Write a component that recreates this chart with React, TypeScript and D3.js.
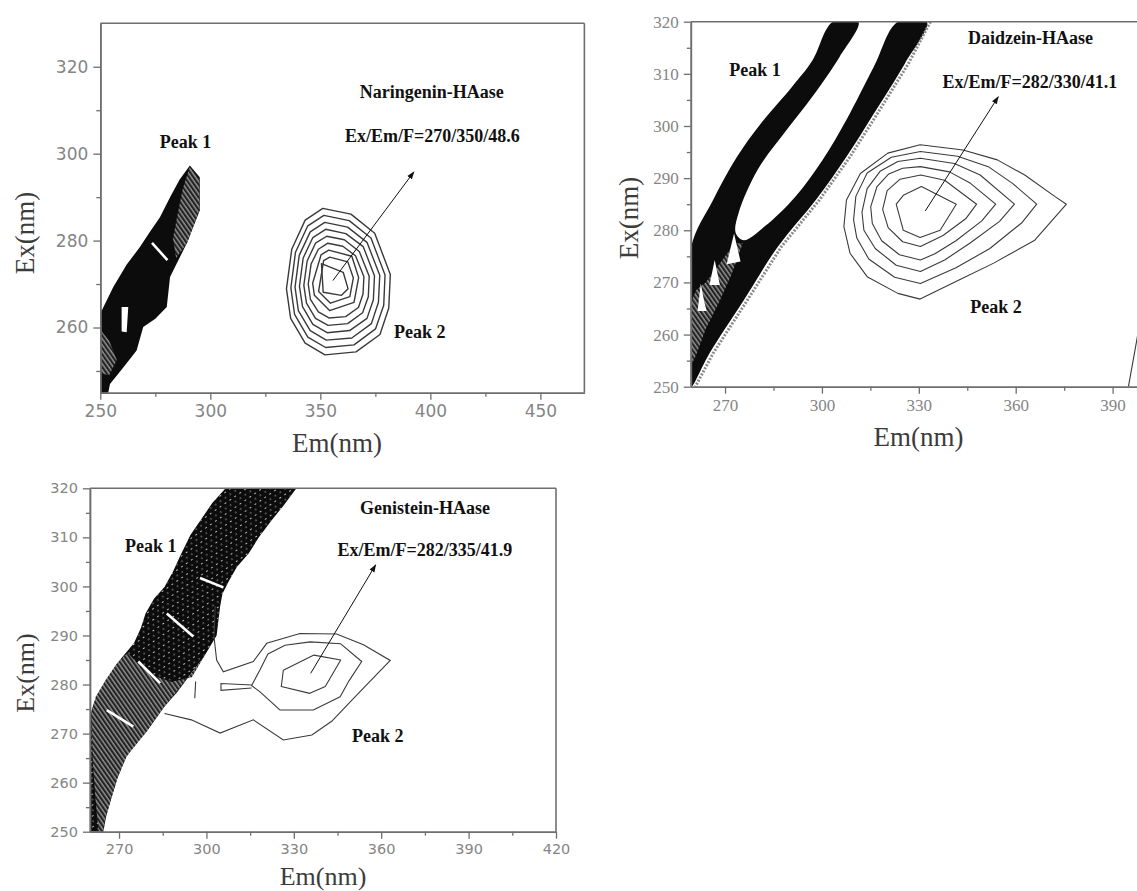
import React, { useEffect, useRef } from 'react';
import * as d3 from 'd3';

type Pt = [number, number];

const W = 1137;
const H = 891;

// ---------- Naringenin-HAase (top left) ----------
const narXTicks = [250, 300, 350, 400, 450];
const narXMinor = [275, 325, 375, 425];
const narYTicks = [260, 280, 300, 320];
const narYMinor = [250, 270, 290, 310];

const narPeak1Band: Pt[] = [
  [250, 243], [250, 263.2], [255.9, 269.3], [262, 274.5], [268, 278.5], [272.5, 282], [277.1, 285.4],
  [281.7, 290], [286, 294], [290.7, 297.3], [295.2, 294.6], [295.2, 286.9], [289.2, 279.3],
  [281.7, 271.6], [280.2, 264.7], [275, 262], [269.5, 260.1], [266.5, 254.7], [260, 250.5],
  [254.4, 247], [252.9, 243.2],
];
const narPeak1Hatch: Pt[][] = [
  [[290.7, 297], [295, 294.3], [295, 287], [289.5, 279.5], [284.5, 276], [283, 280.5], [285.5, 287], [287.5, 292]],
  [[250, 259.5], [254, 257], [257.5, 252.5], [254, 249], [250, 249.5]],
];
const narPeak1Holes: Pt[][] = [
  [[259.7, 264.7], [262.7, 264.7], [262, 258.9], [259.7, 259.1]],
];
const narPeak1Slashes: Pt[][] = [
  [[273.5, 279.5], [280.5, 275.5]],
];
const narPeak2Rings: Pt[][] = [
  [[351.1, 287.4], [363.9, 286.1], [374.7, 281.7], [381.8, 272.2], [381.1, 264.5], [377.1, 258.4], [366.2, 254.4], [352.1, 253.7], [343.1, 256.4], [336.5, 262.1], [334.6, 268.9], [337, 278], [343.1, 284.7]],
  [[351.6, 285.8], [363.1, 284.6], [373, 280.6], [379.4, 272.1], [378.8, 265.1], [375.1, 259.7], [365.3, 256], [352.4, 255.4], [344.3, 257.8], [338.3, 263], [336.6, 269.1], [338.7, 277.3], [344.3, 283.4]],
  [[352, 284.2], [362.4, 283.1], [371.2, 279.6], [377, 272], [376.4, 265.8], [373.2, 260.9], [364.3, 257.6], [352.7, 257.1], [345.4, 259.3], [340, 263.9], [338.5, 269.3], [340.4, 276.6], [345.4, 282]],
  [[352.4, 282.6], [361.6, 281.6], [369.5, 278.6], [374.6, 271.9], [374.1, 266.4], [371.2, 262.1], [363.3, 259.3], [353.1, 258.8], [346.6, 260.7], [341.9, 264.8], [340.5, 269.5], [342.2, 276], [346.6, 280.7]],
  [[352.9, 281], [360.9, 280.2], [367.7, 277.5], [372.2, 271.8], [371.8, 267.1], [369.2, 263.4], [362.4, 260.9], [353.5, 260.5], [347.8, 262.1], [343.7, 265.6], [342.5, 269.7], [344, 275.3], [347.8, 279.4]],
  [[353.4, 279.4], [360.2, 278.7], [366, 276.5], [369.8, 271.7], [369.4, 267.7], [367.3, 264.6], [361.5, 262.5], [353.9, 262.2], [349.1, 263.6], [345.5, 266.5], [344.5, 270], [345.8, 274.6], [349.1, 278]],
  [[353.8, 277.8], [364.3, 276.4], [367.4, 271.5], [365.3, 265.8], [354.2, 263.9], [347.3, 267.4], [346.5, 270.2], [350.3, 276.7]],
  [[354.3, 276.2], [362.5, 275.1], [365, 271.4], [363.4, 267.1], [354.6, 265.6], [349.2, 268.3], [351.5, 275.4]],
  [[350.5, 274.7], [360.4, 272.7], [362.6, 268.9], [359.6, 267.4], [351.3, 268.1]],
];
const narArrow: Pt[] = [[355.7, 270.8], [392.5, 295.8]];

// ---------- Daidzein-HAase (top right) ----------
const daiXTicks = [270, 300, 330, 360, 390];
const daiXMinor = [285, 315, 345, 375];
const daiYTicks = [250, 260, 270, 280, 290, 300, 310, 320];
const daiYMinor = [255, 265, 275, 285, 295, 305, 315];

const daiPeak1Band: Pt[] = [
  [259.4, 276.5], [266.3, 285.8], [273.7, 294.1], [281.1, 300.5], [290.7, 307.5], [297, 312.5], [303.4, 320],
  [311.3, 320], [305.5, 313.3], [297, 305.6], [289.4, 299.5], [280.1, 291.6], [274.2, 283.3], [273.3, 279.5],
  [275.8, 278.1], [282.2, 280.7], [291.7, 286.4], [300.2, 293.5], [307.6, 301.2], [316.1, 311.4], [323.5, 320],
  [332.5, 320], [325.7, 312], [316.1, 302.4], [307.6, 294.1], [298.1, 285.8], [286.4, 276.9], [275.8, 266.6],
  [265.2, 256.4], [259.7, 250], [259.4, 250],
];
const daiPeak1Hatch: Pt[][] = [
  [[259.4, 266], [261, 268.5], [264, 270], [267, 272.5], [270, 275], [273, 277.5], [275.5, 277.5], [272, 271.5], [268, 266], [264, 261], [261, 256], [259.4, 254]],
];
const daiPeak1Holes: Pt[][] = [
  [[261.5, 264.5], [262.5, 269.8], [263.5, 266.5], [264.3, 264.5]],
  [[265.2, 269.5], [266.8, 274.3], [268.4, 269.5]],
  [[270.5, 273.5], [272.8, 279.4], [274.8, 274]],
];
const daiPeak1Fringe: Pt[][] = [
  [[333.6, 320], [326.8, 312], [317.2, 302.4], [308.7, 294.1], [299.2, 285.8], [287.5, 276.9], [276.9, 266.6], [266.3, 256.4], [260.8, 250]],
];
const daiPeak2Rings: Pt[][] = [
  [[330.4, 296.4], [343.7, 295.4], [354.3, 293.5], [362.8, 290.6], [372.3, 286.4], [375.7, 285], [372.3, 282.6], [365.9, 278.1], [353.2, 273.7], [342.6, 270.5], [330.4, 266.8], [323.5, 267.9], [314, 271.1], [308.7, 275.6], [306.8, 280.7], [307.6, 285.8], [311.9, 290.9], [320.4, 294.8]],
  [[330.5, 295.1], [342, 294.2], [351.5, 292.2], [359, 289], [366.5, 285], [362, 281.5], [352, 276.5], [341.5, 272.8], [330.5, 269.8], [322.5, 271], [314.5, 274.5], [310.8, 278.5], [309.8, 282], [310.5, 286.5], [314, 291], [321.5, 294]],
  [[330.5, 293.8], [341, 292.8], [349, 290.6], [359.6, 285], [355, 281.7], [346, 277.6], [338, 274.3], [330.5, 272.1], [323, 273.3], [316.5, 276.5], [313, 280], [312.4, 283.5], [314, 288], [318, 291.3], [323.5, 293.2]],
  [[330.5, 292.2], [339.5, 291.2], [346, 289], [353.8, 285], [349.5, 281.8], [341.5, 278], [335, 275.5], [330.5, 274.3], [324, 275.3], [318.5, 278], [315.6, 281.3], [315.1, 284.5], [317, 288.3], [320.7, 290.8], [325, 291.9]],
  [[330.6, 290.6], [338, 289.6], [347.9, 285], [344.5, 282.2], [337.5, 279], [330.5, 276.9], [325, 277.8], [320.5, 280.5], [318.8, 284], [320.2, 287.6], [324.2, 289.8]],
  [[330.8, 288.4], [341.6, 285], [336.6, 280], [330.4, 278.6], [325.2, 280], [323, 285], [325.2, 286.7]],
];
const daiOpenLines: Pt[][] = [
  [[394.9, 250], [397.5, 259], [400, 268]],
];
const daiArrow: Pt[] = [[332, 283.7], [354.6, 305.6]];

// ---------- Genistein-HAase (bottom left) ----------
const genXTicks = [270, 300, 330, 360, 390, 420];
const genXMinor = [285, 315, 345, 375, 405];
const genYTicks = [250, 260, 270, 280, 290, 300, 310, 320];
const genYMinor = [255, 265, 275, 285, 295, 305, 315];

const genPeak1Band: Pt[] = [
  [260, 250], [260, 273.5], [261.5, 276.5], [264, 279], [267.2, 282.3], [271, 285.5], [275.1, 288.4],
  [277.5, 291.5], [279.1, 294.5], [282, 297.5], [285.6, 299.9], [288.5, 303], [290.9, 306.1], [294.5, 310.5],
  [298.8, 314.2], [302, 317], [306.6, 320], [330.9, 320], [326.5, 316.5], [322.4, 313.5], [318, 310],
  [314.5, 306.7], [310.5, 304], [307.9, 301.3], [305.5, 298.5], [304.7, 295.9], [303.5, 290], [299, 285.5],
  [294.8, 282.3], [290, 278.5], [285.6, 275.5], [279.1, 270.1], [275.5, 268], [272.5, 265.3], [269.5, 261],
  [267.2, 256.5], [265.5, 253], [264.6, 250],
];
const genPeak1Hatch: Pt[][] = [
  [[260.5, 274], [262, 277.5], [265.5, 281], [269.5, 284.5], [273, 286.5], [276, 284.5], [281, 282], [288, 280.5], [295, 281.5], [299, 285.5], [294.8, 282.3], [285.6, 275.5], [279.1, 270.1], [272.5, 265.3], [269.5, 261], [267.2, 256.5], [265.5, 253], [264.6, 250], [263, 250], [262, 256], [261, 264]],
];
const genPeak1Slashes: Pt[][] = [
  [[297.8, 301.7], [305.8, 299.8]],
  [[286.4, 294.5], [295.5, 289.8]],
  [[276.6, 284.7], [284.1, 280.3]],
  [[265.8, 274.8], [274.9, 271.4]],
];
const genPeak2Rings: Pt[][] = [
  [[315.5, 279.8], [318.4, 283], [321.1, 286.2], [327, 288], [335.6, 288.7], [346.1, 288.3], [353.3, 284.7], [349, 280.8], [345.9, 277.5], [336.7, 274.8], [325.3, 274.8], [318.4, 278.5]],
  [[326.4, 282.9], [336.9, 286], [346.1, 285], [340.8, 279.6], [335.5, 278.2], [325.7, 279.6]],
];
const genOpenLines: Pt[][] = [
  [[303, 296], [302.6, 289.8], [303.5, 285], [305.8, 282.6], [316.1, 284.7], [320.7, 288.4], [332.1, 290.4], [344.7, 290.3], [353.9, 288.1], [363.1, 284.9], [351, 277.5], [343, 272.5], [336.2, 269.7], [326.4, 268.7], [316.1, 272.8], [304.7, 270.1], [294.8, 272.8], [285.6, 274.1]],
  [[315.5, 279.9], [305, 280.2], [305, 278.8], [315.5, 279.3]],
  [[296.3, 280.6], [296, 277.2]],
];
const genArrow: Pt[] = [[335.8, 282.3], [358.1, 304.4]];

interface Panel {
  id: string;
  xDomain: [number, number];
  xRange: [number, number];
  yDomain: [number, number];
  yRange: [number, number];
  xTicks: number[];
  xMinor: number[];
  yTicks: number[];
  yMinor: number[];
  tickFont: string;
  tickSize: number;
  boxRight: boolean;
  titleSize: number;
  exTitle: [number, number];
  emTitle: [number, number];
  name: string;
  formula: string;
  namePos: Pt;
  formulaPos: Pt;
  peak1Pos: Pt;
  peak2Pos: Pt;
  band: Pt[];
  smoothBand: boolean;
  hatch: Pt[][];
  holes: Pt[][];
  slashes: Pt[][];
  fringe: Pt[][];
  specks: boolean;
  rings: Pt[][];
  ringStroke: number;
  openLines: Pt[][];
  arrow: Pt[];
}

const panels: Panel[] = [
  {
    id: 'nar',
    xDomain: [250, 470], xRange: [100.3, 584.4],
    yDomain: [245, 330], yRange: [392.7, 23.3],
    xTicks: narXTicks, xMinor: narXMinor, yTicks: narYTicks, yMinor: narYMinor,
    tickFont: '"DejaVu Sans", "Liberation Sans", sans-serif', tickSize: 17,
    boxRight: true,
    titleSize: 27, exTitle: [25, 233], emTitle: [337, 452],
    name: 'Naringenin-HAase', formula: 'Ex/Em/F=270/350/48.6',
    namePos: [400.6, 312.8], formulaPos: [400.9, 302.7], peak1Pos: [288.7, 301.2], peak2Pos: [395.2, 257.5],
    band: narPeak1Band, smoothBand: false, hatch: narPeak1Hatch, holes: narPeak1Holes, slashes: narPeak1Slashes, fringe: [],
    specks: false,
    rings: narPeak2Rings, ringStroke: 1.4, openLines: [], arrow: narArrow,
  },
  {
    id: 'dai',
    xDomain: [259.4, 400], xRange: [690.8, 1144.9],
    yDomain: [250, 320], yRange: [386.7, 21.7],
    xTicks: daiXTicks, xMinor: daiXMinor, yTicks: daiYTicks, yMinor: daiYMinor,
    tickFont: '"Liberation Serif", "Times New Roman", serif', tickSize: 17,
    boxRight: false,
    titleSize: 27, exTitle: [629, 218], emTitle: [918.5, 446],
    name: 'Daidzein-HAase', formula: 'Ex/Em/F=282/330/41.1',
    namePos: [364.6, 315.7], formulaPos: [364.4, 307.3], peak1Pos: [279.3, 309.6], peak2Pos: [353.9, 264.1],
    band: daiPeak1Band, smoothBand: true, hatch: daiPeak1Hatch, holes: daiPeak1Holes, slashes: [], fringe: daiPeak1Fringe,
    specks: false,
    rings: daiPeak2Rings, ringStroke: 1.1, openLines: daiOpenLines, arrow: daiArrow,
  },
  {
    id: 'gen',
    xDomain: [260, 420], xRange: [89.9, 556],
    yDomain: [250, 320], yRange: [831.7, 488.3],
    xTicks: genXTicks, xMinor: genXMinor, yTicks: genYTicks, yMinor: genYMinor,
    tickFont: '"DejaVu Sans", "Liberation Sans", sans-serif', tickSize: 14.5,
    boxRight: true,
    titleSize: 26, exTitle: [25, 673], emTitle: [323, 885],
    name: 'Genistein-HAase', formula: 'Ex/Em/F=282/335/41.9',
    namePos: [375, 314.7], formulaPos: [375, 306.1], peak1Pos: [280.9, 307.1], peak2Pos: [358.8, 268.3],
    band: genPeak1Band, smoothBand: false, hatch: genPeak1Hatch, holes: [], slashes: genPeak1Slashes, fringe: [],
    specks: true,
    rings: genPeak2Rings, ringStroke: 1.1, openLines: genOpenLines, arrow: genArrow,
  },
];

const axisColor = '#6e6e6e';
const tickText = '#858585';
const titleColor = '#3c3c3c';
const serif = '"Liberation Serif", "Times New Roman", serif';

function drawPanel(svg: d3.Selection<SVGSVGElement, unknown, null, undefined>, p: Panel) {
  const x = d3.scaleLinear(p.xDomain, p.xRange);
  const y = d3.scaleLinear(p.yDomain, p.yRange);
  const line = d3.line<Pt>().x(d => x(d[0])).y(d => y(d[1]));
  const closed = d3.line<Pt>().x(d => x(d[0])).y(d => y(d[1])).curve(d3.curveLinearClosed);
  const smooth = d3.line<Pt>().x(d => x(d[0])).y(d => y(d[1])).curve(d3.curveCatmullRomClosed.alpha(0.5));

  const [x0, x1] = p.xRange;
  const [yb, yt] = p.yRange;

  svg.select('defs').append('clipPath').attr('id', `clip-${p.id}`)
    .append('rect').attr('x', x0).attr('y', yt).attr('width', x1 - x0).attr('height', yb - yt);

  const g = svg.append('g');
  const plot = g.append('g').attr('clip-path', `url(#clip-${p.id})`);

  // Peak 1 (scattering band)
  const bandPath = p.smoothBand ? smooth(p.band) : closed(p.band);
  plot.append('path').attr('d', bandPath).attr('fill', '#0c0c0c');
  if (p.specks) plot.append('path').attr('d', bandPath).attr('fill', 'url(#specks)');
  p.hatch.forEach(z => plot.append('path').attr('d', closed(z)).attr('fill', 'url(#hatch)'));
  p.holes.forEach(z => plot.append('path').attr('d', closed(z)).attr('fill', '#fff'));
  p.slashes.forEach(z => plot.append('path').attr('d', line(z)).attr('stroke', '#fff').attr('stroke-width', 2.6).attr('fill', 'none'));
  p.fringe.forEach(z => plot.append('path').attr('d', line(z)).attr('stroke', '#8a8a8a').attr('stroke-width', 3)
    .attr('stroke-dasharray', '2 1.5').attr('fill', 'none'));

  // Peak 2 contour rings
  p.rings.forEach(r => plot.append('path').attr('d', closed(r)).attr('fill', 'none')
    .attr('stroke', '#3a3a3a').attr('stroke-width', p.ringStroke).attr('stroke-linejoin', 'round'));
  p.openLines.forEach(r => plot.append('path').attr('d', line(r)).attr('fill', 'none')
    .attr('stroke', '#3a3a3a').attr('stroke-width', p.ringStroke));

  // arrow to peak 2
  g.append('path').attr('d', line(p.arrow)).attr('stroke', '#111').attr('stroke-width', 1)
    .attr('fill', 'none').attr('marker-end', 'url(#arrowhead)');

  // axes
  const styleAxis = (sel: d3.Selection<SVGGElement, unknown, null, undefined>) => {
    sel.attr('font-family', p.tickFont).attr('font-size', p.tickSize);
    sel.select('.domain').attr('stroke', axisColor).attr('stroke-width', 1.6);
    sel.selectAll('.tick line').attr('stroke', axisColor).attr('stroke-width', 1.3);
    sel.selectAll('.tick text').attr('fill', tickText);
  };

  g.append('g').attr('transform', `translate(0,${yb})`)
    .call(d3.axisBottom(x).tickValues(p.xMinor).tickFormat(() => '').tickSize(4).tickSizeOuter(0))
    .call(styleAxis);
  g.append('g').attr('transform', `translate(0,${yb})`)
    .call(d3.axisBottom(x).tickValues(p.xTicks).tickFormat(d3.format('d')).tickSize(7).tickPadding(5).tickSizeOuter(0))
    .call(styleAxis);
  g.append('g').attr('transform', `translate(${x0},0)`)
    .call(d3.axisLeft(y).tickValues(p.yMinor).tickFormat(() => '').tickSize(4).tickSizeOuter(0))
    .call(styleAxis);
  g.append('g').attr('transform', `translate(${x0},0)`)
    .call(d3.axisLeft(y).tickValues(p.yTicks).tickFormat(d3.format('d')).tickSize(7).tickPadding(5).tickSizeOuter(0))
    .call(styleAxis);

  // frame
  g.append('line').attr('x1', x0).attr('x2', x1).attr('y1', yt).attr('y2', yt)
    .attr('stroke', axisColor).attr('stroke-width', 1.6);
  if (p.boxRight) {
    g.append('line').attr('x1', x1).attr('x2', x1).attr('y1', yt).attr('y2', yb)
      .attr('stroke', axisColor).attr('stroke-width', 1.6);
  }

  // axis titles
  g.append('text').attr('transform', `translate(${p.exTitle[0]},${p.exTitle[1]}) rotate(-90)`)
    .attr('text-anchor', 'middle').attr('dy', '0.35em')
    .attr('font-family', serif).attr('font-size', p.titleSize).attr('fill', titleColor).text('Ex(nm)');
  g.append('text').attr('x', p.emTitle[0]).attr('y', p.emTitle[1])
    .attr('text-anchor', 'middle')
    .attr('font-family', serif).attr('font-size', p.titleSize).attr('fill', titleColor).text('Em(nm)');

  // annotations
  const note = (pos: Pt, txt: string) =>
    g.append('text').attr('x', x(pos[0])).attr('y', y(pos[1])).attr('text-anchor', 'middle')
      .attr('font-family', serif).attr('font-weight', 'bold').attr('font-size', 18).attr('fill', '#111').text(txt);
  note(p.namePos, p.name);
  note(p.formulaPos, p.formula);
  note(p.peak1Pos, 'Peak 1');
  note(p.peak2Pos, 'Peak 2');
}

export default function App() {
  const svgRef = useRef<SVGSVGElement>(null);

  useEffect(() => {
    const svg = d3.select(svgRef.current as SVGSVGElement);
    svg.selectAll('*').remove();

    const defs = svg.append('defs');
    const hatch = defs.append('pattern').attr('id', 'hatch').attr('patternUnits', 'userSpaceOnUse')
      .attr('width', 3.6).attr('height', 3.6).attr('patternTransform', 'rotate(-35)');
    hatch.append('rect').attr('width', 3.6).attr('height', 3.6).attr('fill', '#222');
    hatch.append('line').attr('x1', 1).attr('y1', 0).attr('x2', 1).attr('y2', 3.6)
      .attr('stroke', '#d8d8d8').attr('stroke-width', 0.9);

    const specks = defs.append('pattern').attr('id', 'specks').attr('patternUnits', 'userSpaceOnUse')
      .attr('width', 9).attr('height', 6).attr('patternTransform', 'rotate(55)');
    specks.append('rect').attr('x', 1).attr('y', 1).attr('width', 1).attr('height', 2).attr('fill', '#bdbdbd');
    specks.append('rect').attr('x', 5.5).attr('y', 4).attr('width', 1).attr('height', 1.5).attr('fill', '#a8a8a8');

    defs.append('marker').attr('id', 'arrowhead').attr('viewBox', '0 0 10 10')
      .attr('refX', 9).attr('refY', 5).attr('markerWidth', 8).attr('markerHeight', 8)
      .attr('markerUnits', 'userSpaceOnUse').attr('orient', 'auto')
      .append('path').attr('d', 'M0,1.5L10,5L0,8.5Z').attr('fill', '#111');

    panels.forEach(p => drawPanel(svg, p));
  }, []);

  return (
    <svg
      ref={svgRef}
      width={W}
      height={H}
      viewBox={`0 0 ${W} ${H}`}
      style={{ position: 'absolute', left: 0, top: 0, background: '#fff', display: 'block' }}
    />
  );
}
